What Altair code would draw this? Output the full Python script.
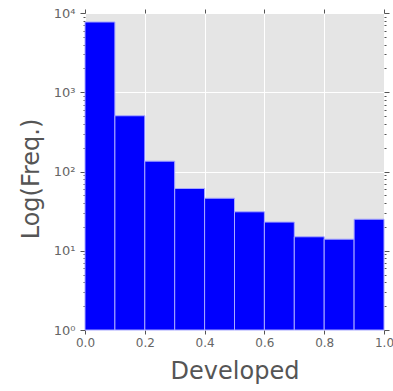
import altair as alt
import pandas as pd

# Histogram of "Developed" share, 10 equal-width bins on [0, 1]
bin_start = [0.0, 0.1, 0.2, 0.3, 0.4, 0.5, 0.6, 0.7, 0.8, 0.9]
bin_end = [0.1, 0.2, 0.3, 0.4, 0.5, 0.6, 0.7, 0.8, 0.9, 1.0]
counts = [7700, 505, 135, 61, 46, 31, 23, 15, 14, 25]

x_ticks = [0.0, 0.2, 0.4, 0.6, 0.8, 1.0]
major_y = [1, 10, 100, 1000, 10000]
minor_y = [m * 10 ** k for k in range(4) for m in range(2, 10)]

df = pd.DataFrame({"start": bin_start, "end": bin_end, "count": counts,
                   "base": [1] * len(counts)})

is_major = "indexof([1,10,100,1000,10000], datum.value) >= 0"
sup_label = ("indexof([1,10,100,1000,10000], datum.value) >= 0 ? "
             "'10' + ['⁰','¹','²','³','⁴'][round(log(datum.value)/LN10)] : ''")

FONT = "DejaVu Sans"
TICK_COLOR = "#555555"

x_scale = alt.Scale(domain=[0, 1], nice=False, zero=False)
y_scale = alt.Scale(type="log", domain=[1, 10000], nice=False)

bars = alt.Chart(df).mark_bar(
    color="#0000FF", stroke="#A8A8FF", strokeWidth=1
).encode(
    x=alt.X("start:Q", scale=x_scale, axis=alt.Axis(
        values=x_ticks, format=".1f", title="Developed",
        orient="bottom", domain=False, tickSize=4, tickColor=TICK_COLOR,
        labelFont=FONT, labelFontSize=12, labelColor="#666666", labelPadding=3,
        labelFlush=False,
        gridColor="white", gridWidth=1,
        titleFont=FONT, titleFontSize=24, titleFontWeight="normal",
        titleColor="#555555", titleX=149.5, titleY=48.5,
        titleBaseline="alphabetic", titleAlign="center")),
    x2="end:Q",
    y=alt.Y("count:Q", scale=y_scale, axis=alt.Axis(
        values=major_y + minor_y, labelExpr=sup_label, title="Log(Freq.)",
        orient="left", domain=False, labelOverlap=False, labelFlush=False,
        tickColor=TICK_COLOR,
        tickSize={"condition": {"test": is_major, "value": 5}, "value": 2},
        gridOpacity={"condition": {"test": is_major, "value": 1}, "value": 0},
        gridColor="white", gridWidth=1,
        labelFont=FONT, labelFontSize=13, labelColor="#666666", labelPadding=5,
        titleFont=FONT, titleFontSize=24, titleFontWeight="normal",
        titleColor="#555555", titleX=-54, titleY=165.5, titleAngle=-90,
        titleAlign="center", titleBaseline="middle")),
    y2="base:Q",
)

# Tick marks along the top and right edges of the plot frame
frame = alt.Chart(df).mark_bar(opacity=0).encode(
    x=alt.X("start:Q", scale=x_scale, axis=alt.Axis(
        values=x_ticks, orient="top", labels=False, title=None, domain=False,
        grid=False, tickSize=4, tickColor=TICK_COLOR)),
    x2="end:Q",
    y=alt.Y("count:Q", scale=y_scale, axis=alt.Axis(
        values=major_y + minor_y, orient="right", labels=False, title=None,
        domain=False, grid=False, tickColor=TICK_COLOR,
        tickSize={"condition": {"test": is_major, "value": 5}, "value": 2})),
    y2="base:Q",
)

chart = alt.layer(bars, frame).resolve_axis(
    x="independent", y="independent"
).properties(
    width=299, height=317,
    autosize=alt.AutoSizeParams(type="none"),
    padding={"left": 85, "top": 13, "right": 9, "bottom": 61},
    background="white",
).configure_view(fill="#E5E5E5", stroke=None)

chart.save("out.html", embed_options={"renderer": "svg", "actions": False})
